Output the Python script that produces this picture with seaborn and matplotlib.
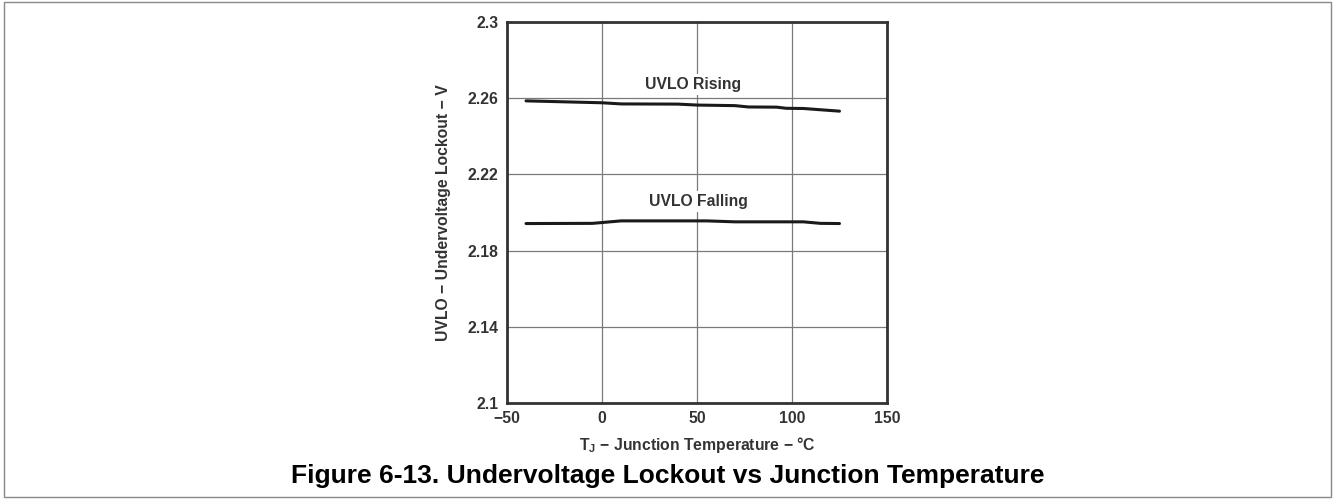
import seaborn as sns
import matplotlib.pyplot as plt
import pandas as pd
from matplotlib.patches import Rectangle

# values
rising_t = [-40, 0, 10, 40, 50, 70, 77, 92, 97, 106, 125]
rising_v = [2.2586, 2.2576, 2.2570, 2.2569, 2.2564, 2.2561, 2.2554, 2.2553, 2.2547, 2.2546, 2.2532]
falling_t = [-40, -5, 10, 55, 70, 106, 115, 125]
falling_v = [2.1942, 2.1943, 2.1956, 2.1956, 2.1951, 2.1951, 2.1943, 2.1942]

x_ticks = [-50, 0, 50, 100, 150]
x_labels = ["\u221250", "0", "50", "100", "150"]
y_ticks = [2.1, 2.14, 2.18, 2.22, 2.26, 2.3]
y_labels = ["2.1", "2.14", "2.18", "2.22", "2.26", "2.3"]

df = pd.concat([
    pd.DataFrame({"T": rising_t, "V": rising_v, "curve": "UVLO Rising"}),
    pd.DataFrame({"T": falling_t, "V": falling_v, "curve": "UVLO Falling"}),
])

sns.set_style("white")
plt.rcParams["font.family"] = ["Liberation Sans", "DejaVu Sans"]
plt.rcParams["font.weight"] = "bold"

fs = 11.3
fig = plt.figure(figsize=(13.35, 4.99), dpi=100)
ax = fig.add_axes([0.3798, 0.1924, 0.2846, 0.7635])

ax.set_axisbelow(True)
ax.grid(True, color="#7a7a7a", linewidth=0.9)

sns.lineplot(data=df, x="T", y="V", units="curve", estimator=None,
             color="#1a1a1a", linewidth=2.2, ax=ax, legend=False, sort=True)

ax.set_xlim(-50, 150)
ax.set_ylim(2.1, 2.3)
ax.set_xticks(x_ticks)
ax.set_xticklabels(x_labels)
ax.set_yticks(y_ticks)
ax.set_yticklabels(y_labels)
ax.tick_params(length=0, labelsize=fs, labelcolor="#333333", pad=6)
for lab in ax.get_xticklabels() + ax.get_yticklabels():
    lab.set_fontweight("bold")

for s in ax.spines.values():
    s.set_color("#333333")
    s.set_linewidth(2)

ax.set_xlabel("T$_\\mathregular{J}$ \u2212 Junction Temperature \u2212 \u00b0C",
              fontsize=fs, fontweight="bold", color="#333333", labelpad=6)
ax.set_ylabel("UVLO \u2212 Undervoltage Lockout \u2212 V",
              fontsize=fs, fontweight="bold", color="#333333", labelpad=12)

ax.text(48, 2.2672, "UVLO Rising", ha="center", va="center", fontsize=fs,
        fontweight="bold", color="#333333",
        bbox=dict(facecolor="white", edgecolor="none", pad=2))
ax.text(51, 2.2058, "UVLO Falling", ha="center", va="center", fontsize=fs,
        fontweight="bold", color="#333333",
        bbox=dict(facecolor="white", edgecolor="none", pad=2))

fig.text(0.5, 0.032, "Figure 6-13. Undervoltage Lockout vs Junction Temperature",
         ha="center", va="baseline", fontsize=19, fontweight="bold", color="black")

fig.patches.append(Rectangle((0.003, 0.005), 0.994, 0.99, transform=fig.transFigure,
                             fill=False, edgecolor="#888888", linewidth=1))

fig.savefig("out.png", dpi=100)
